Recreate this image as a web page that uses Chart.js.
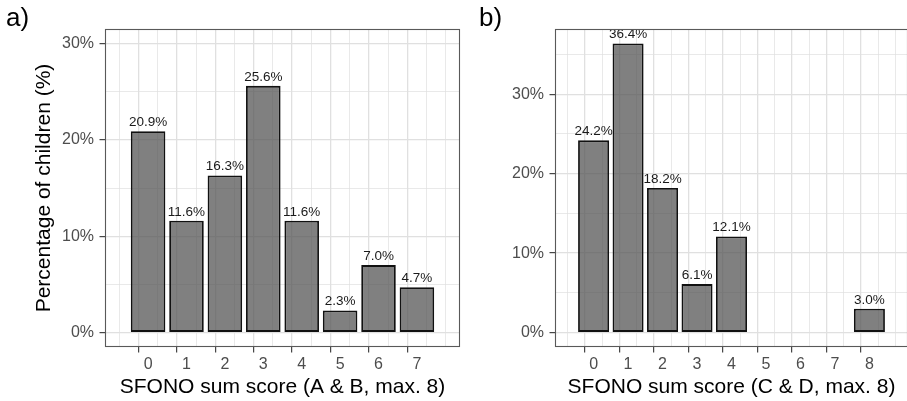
<!DOCTYPE html>
<html>
<head>
<meta charset="utf-8">
<script src="https://cdn.jsdelivr.net/npm/chart.js@4"></script>
<style>
  html, body { margin: 0; padding: 0; background: #ffffff; overflow: hidden; width: 907px; height: 401px; }
  #wrap { position: relative; width: 907px; height: 401px; overflow: hidden; }
  canvas { position: absolute; top: 0; }
  #cA { left: 0; }
  #cB { left: 461px; }
  .tag { position: absolute; font-family: "Liberation Sans", Arial, sans-serif; font-size: 26px; line-height: 30px; color: #000; }
</style>
</head>
<body>
<div id="wrap">
  <canvas id="cA" width="461" height="401"></canvas>
  <canvas id="cB" width="450" height="401"></canvas>
  <div class="tag" style="left:6px; top:2px;">a)</div>
  <div class="tag" style="left:479px; top:2px;">b)</div>
</div>
<script>
// ---- data ----
const scoresA = [0, 1, 2, 3, 4, 5, 6, 7];
const pctA = [20.9, 11.6, 16.3, 25.6, 11.6, 2.3, 7.0, 4.7];
const scoresB = [0, 1, 2, 3, 4, 5, 6, 7, 8];
const pctB = [24.2, 36.4, 18.2, 6.1, 12.1, null, null, null, 3.0];
const xTicksA = [-0.5, 0, 0.5, 1, 1.5, 2, 2.5, 3, 3.5, 4, 4.5, 5, 5.5, 6, 6.5, 7, 7.5];
const xTicksB = [-0.5, 0, 0.5, 1, 1.5, 2, 2.5, 3, 3.5, 4, 4.5, 5, 5.5, 6, 6.5, 7, 7.5, 8, 8.5];
const yTicksA = [0, 5, 10, 15, 20, 25, 30];
const yTicksB = [0, 5, 10, 15, 20, 25, 30, 35];
const xTitleA = 'SFONO sum score (A & B, max. 8)';
const xTitleB = 'SFONO sum score (C & D, max. 8)';
const yTitle = 'Percentage of children (%)';

const FONT = '"Liberation Sans", Arial, sans-serif';

const isMajorX = (c) => c && c.tick && Number.isInteger(c.tick.value);
const isMajorY = (c) => c && c.tick && (c.tick.value % 10 === 0);

const barLabels = {
  id: 'barLabels',
  afterDatasetsDraw(chart) {
    const ctx = chart.ctx;
    const a = chart.chartArea;
    const meta = chart.getDatasetMeta(0);
    const ds = chart.data.datasets[0].data;
    ctx.save();
    ctx.beginPath();
    ctx.rect(a.left, a.top, a.right - a.left, a.bottom - a.top);
    ctx.clip();
    ctx.font = '13.5px ' + FONT;
    ctx.fillStyle = '#1a1a1a';
    ctx.textAlign = 'center';
    ctx.textBaseline = 'alphabetic';
    meta.data.forEach((bar, i) => {
      ctx.fillText(ds[i].y.toFixed(1) + '%', bar.x, bar.y - 5);
    });
    ctx.restore();
  }
};

const panelBorder = {
  id: 'panelBorder',
  afterDraw(chart) {
    const a = chart.chartArea;
    const ctx = chart.ctx;
    ctx.save();
    ctx.strokeStyle = '#595959';
    ctx.lineWidth = 1.1;
    ctx.strokeRect(a.left + 0.5, a.top + 0.5, a.right - a.left - 1, a.bottom - a.top - 1);
    ctx.restore();
  }
};

function makeChart(id, scores, pct, xTicks, yTicks, xmin, xmax, ymin, ymax, xTitle, showYTitle, yAxisWidth, padRight) {
  const pts = [];
  scores.forEach((s, i) => { if (pct[i] !== null) pts.push({ x: s, y: pct[i] }); });
  return new Chart(document.getElementById(id), {
    type: 'bar',
    data: {
      datasets: [{
        data: pts,
        backgroundColor: 'rgba(85,85,85,0.75)',
        borderColor: '#111111',
        borderWidth: 1.8,
        borderSkipped: false,
        // tick spacing is 0.5 unit (minor grid), so 1.8 x 0.5 = 0.9 unit bar width
        barPercentage: 1.8,
        categoryPercentage: 1.0
      }]
    },
    options: {
      responsive: false,
      animation: false,
      devicePixelRatio: 1,
      layout: { padding: { left: 0, right: padRight, top: 29, bottom: 0 } },
      plugins: { legend: { display: false }, tooltip: { enabled: false } },
      scales: {
        x: {
          type: 'linear',
          min: xmin, max: xmax,
          afterBuildTicks: (s) => { s.ticks = xTicks.map(v => ({ value: v })); },
          afterFit: (s) => { s.height = 54; },
          grid: {
            color: '#e0e0e0',
            lineWidth: (c) => isMajorX(c) ? 1.3 : 0.7,
            tickColor: (c) => isMajorX(c) ? '#333333' : 'rgba(0,0,0,0)',
            tickWidth: 1.1,
            tickLength: 5.5,
            drawTicks: true
          },
          border: { display: false },
          ticks: {
            autoSkip: false, maxRotation: 0, padding: 2,
            color: '#4d4d4d',
            font: { family: FONT, size: 16 },
            callback: (v) => Number.isInteger(v) ? String(v) : ''
          },
          title: {
            display: true, text: xTitle, color: '#000000',
            font: { family: FONT, size: 21 },
            padding: { top: 0, bottom: 1.5 }
          }
        },
        y: {
          type: 'linear',
          min: ymin, max: ymax,
          afterBuildTicks: (s) => { s.ticks = yTicks.map(v => ({ value: v })); },
          afterFit: (s) => { s.width = yAxisWidth; },
          grid: {
            color: '#e0e0e0',
            lineWidth: (c) => isMajorY(c) ? 1.3 : 0.7,
            tickColor: (c) => isMajorY(c) ? '#333333' : 'rgba(0,0,0,0)',
            tickWidth: 1.1,
            tickLength: 5.5,
            drawTicks: true
          },
          border: { display: false },
          ticks: {
            padding: 5.5,
            color: '#4d4d4d',
            font: { family: FONT, size: 16 },
            callback: (v) => (v % 10 === 0) ? v + '%' : ''
          },
          title: {
            display: showYTitle, text: yTitle, color: '#000000',
            font: { family: FONT, size: 21 },
            padding: { top: 32, bottom: 0 }
          }
        }
      }
    },
    plugins: [barLabels, panelBorder]
  });
}

makeChart('cA', scoresA, pctA, xTicksA, yTicksA, -0.85, 7.85, -1.5, 31.5, xTitleA, true, 105, 1);
makeChart('cB', scoresB, pctB, xTicksB, yTicksB, -0.85, 8.85, -1.82, 38.22, xTitleB, false, 94, 3);
</script>
</body>
</html>
